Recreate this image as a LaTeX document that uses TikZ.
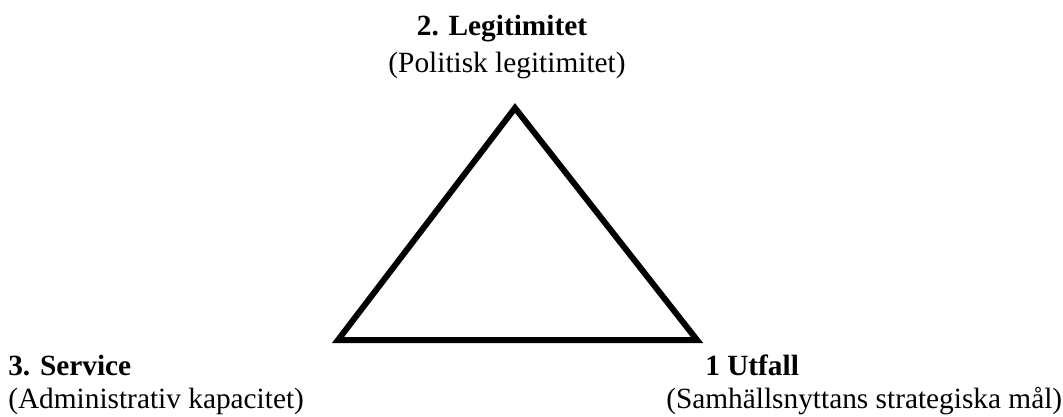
\documentclass[tikz,border=0pt]{standalone}
\usepackage{fontspec}
\setmainfont{Liberation Serif}
\usetikzlibrary{positioning}

\begin{document}
\begin{tikzpicture}[
    x=0.75pt, y=-0.75pt,
    title/.style={inner sep=0pt, font=\fontsize{22}{26}\selectfont\bfseries},
    subtitle/.style={inner sep=0pt, font=\fontsize{22}{26}\selectfont},
    edge/.style={line width=4.5pt, line join=miter}
]
    \useasboundingbox (0,0) rectangle (1063,417);

    % corners of the triangle
    \coordinate (legit) at (515,108);
    \coordinate (serv) at (338,340);
    \coordinate (utf) at (697,340);
    \draw[edge] (legit) -- (utf) -- (serv) -- cycle;

    % top
    \node[title, anchor=base] (legitlab) at (502,36) {2. Legitimitet};
    \node[subtitle, anchor=base] (legitsub) at (507,73) {(Politisk legitimitet)};

    % bottom left
    \node[title, anchor=base west] (servlab) at (8,375) {3. Service};
    \node[subtitle, anchor=base west] (servsub) at (8,408) {(Administrativ kapacitet)};

    % bottom right
    \node[title, anchor=base west] (utflab) at (705,375) {1 Utfall};
    \node[subtitle, anchor=base west] (utfsub) at (666,408) {(Samhällsnyttans strategiska mål)};
\end{tikzpicture}
\end{document}
